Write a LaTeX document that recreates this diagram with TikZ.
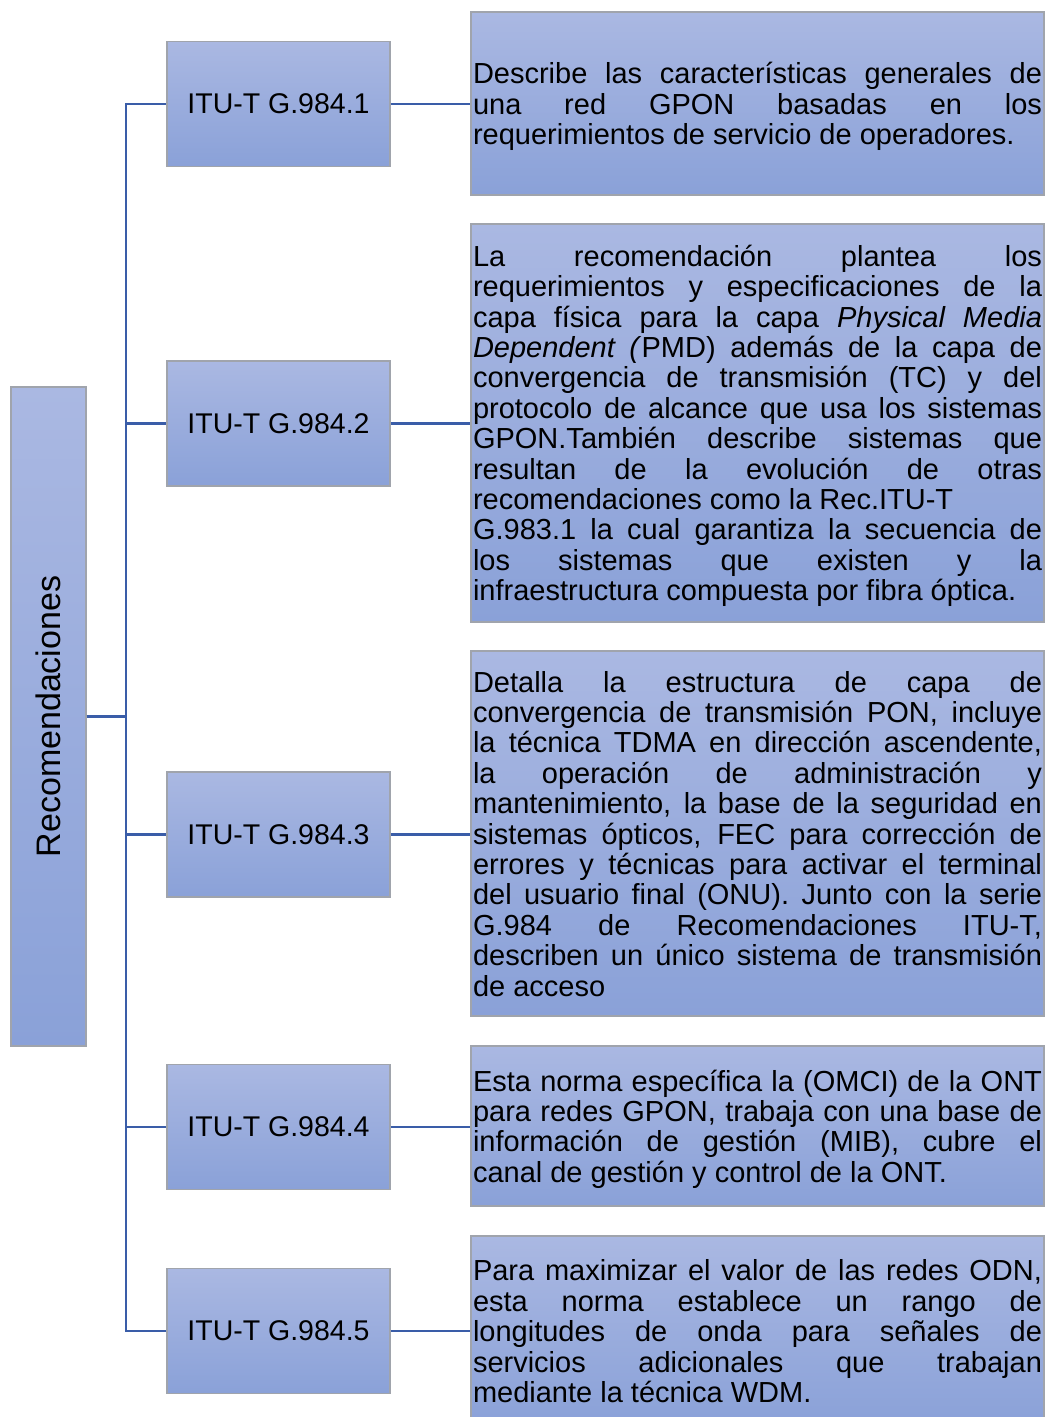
\documentclass[tikz,border=0pt]{standalone}
\usepackage{graphicx}
\usepackage{fontspec}
\setmainfont{Liberation Sans}

\definecolor{boxtop}{HTML}{AAB8E2}
\definecolor{boxbot}{HTML}{8AA1D8}
\definecolor{boxline}{HTML}{A0A4AC}
\definecolor{linkblue}{HTML}{3A5DA8}

% paragraph settings for the description panels
\newcommand\descfont{\fontsize{29}{30.4}\selectfont
  \tolerance=10000\relax \hbadness=10000\relax \hyphenpenalty=10000\relax}
% first-line strut, keeps the text block centred on the panel
\newcommand\firststrut{\rule{0pt}{30.3pt}}

\tikzset{
  panel/.style={rectangle, top color=boxtop, bottom color=boxbot,
    draw=boxline, line width=1.5pt, inner sep=0pt},
  rootbox/.style={panel, minimum width=75pt, minimum height=659pt,
    font=\fontsize{34}{40}\selectfont},
  stdbox/.style={panel, minimum width=223pt, minimum height=125pt,
    font=\fontsize{28.5}{34}\selectfont},
  descbox/.style={panel, text width=569pt, inner xsep=2pt, align=justify,
    font=\descfont},
  link/.style={draw=linkblue, line width=2.5pt}
}

\begin{document}
\begin{tikzpicture}[x=1pt, y=-1pt]
  \clip (0,0) rectangle (1048,1417);
  \fill[white] (0,0) rectangle (1048,1417);

  % main node
  \node[rootbox] (root) at (48.5,716.5) {\rotatebox{90}{Recomendaciones}};
  \coordinate (spine) at (126,716.5);

  % recommendation boxes
  \node[stdbox] (s1) at (278.5,104)  {ITU-T G.984.1};
  \node[stdbox] (s2) at (278.5,423.5){ITU-T G.984.2};
  \node[stdbox] (s3) at (278.5,834.5){ITU-T G.984.3};
  \node[stdbox] (s4) at (278.5,1127) {ITU-T G.984.4};
  \node[stdbox] (s5) at (278.5,1331) {ITU-T G.984.5};

  % descriptions
  \node[descbox, minimum height=183pt] (d1) at (757.5,103.5) {\firststrut
    Describe las características generales de\linebreak
    una red GPON basadas en los\linebreak
    requerimientos de servicio de operadores.\strut};

  \node[descbox, minimum height=398pt] (d2) at (757.5,423) {\firststrut
    La recomendación plantea los\linebreak
    requerimientos y especificaciones de la\linebreak
    capa física para la capa \textit{Physical Media}\linebreak
    \textit{Dependent (}PMD) además de la capa de\linebreak
    convergencia de transmisión (TC) y del\linebreak
    protocolo de alcance que usa los sistemas\linebreak
    GPON.También describe sistemas que\linebreak
    resultan de la evolución de otras\linebreak
    recomendaciones como la Rec.ITU-T\newline
    G.983.1 la cual garantiza la secuencia de\linebreak
    los sistemas que existen y la\linebreak
    infraestructura compuesta por fibra óptica.\strut};

  \node[descbox, minimum height=365pt] (d3) at (757.5,833.5) {\firststrut
    Detalla la estructura de capa de\linebreak
    convergencia de transmisión PON, incluye\linebreak
    la técnica TDMA en dirección ascendente,\linebreak
    la operación de administración y\linebreak
    mantenimiento, la base de la seguridad en\linebreak
    sistemas ópticos, FEC para corrección de\linebreak
    errores y técnicas para activar el terminal\linebreak
    del usuario final (ONU). Junto con la serie\linebreak
    G.984 de Recomendaciones ITU-T,\linebreak
    describen un único sistema de transmisión\linebreak
    de acceso\strut};

  \node[descbox, minimum height=160pt] (d4) at (757.5,1126) {\firststrut
    Esta norma específica la (OMCI) de la ONT\linebreak
    para redes GPON, trabaja con una base de\linebreak
    información de gestión (MIB), cubre el\linebreak
    canal de gestión y control de la ONT.\strut};

  \node[descbox, minimum height=190pt] (d5) at (757.5,1331) {\firststrut
    Para maximizar el valor de las redes ODN,\linebreak
    esta norma establece un rango de\linebreak
    longitudes de onda para señales de\linebreak
    servicios adicionales que trabajan\linebreak
    mediante la técnica WDM.\strut};

  % tree connectors
  \foreach \s in {s1,s2,s3,s4,s5}
    \draw[link] (root.east) -- (spine) |- (\s.west);
  \foreach \s/\d in {s1/d1,s2/d2,s3/d3,s4/d4,s5/d5}
    \draw[link] (\s.east) -- (\s.east -| \d.west);
\end{tikzpicture}
\end{document}
